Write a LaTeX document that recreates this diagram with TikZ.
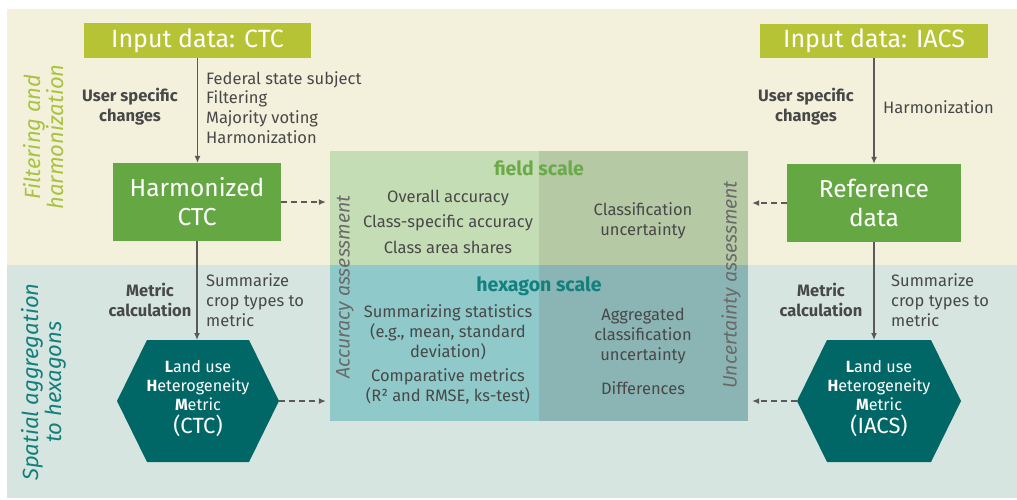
\documentclass[tikz,border=0pt]{standalone}
\usepackage{fontspec}
\setmainfont{Fira Sans}
\usetikzlibrary{arrows.meta}

\definecolor{bandtop}{HTML}{F3F1DC}
\definecolor{bandbot}{HTML}{D6E5DF}
\definecolor{inputgreen}{HTML}{B5C335}
\definecolor{midgreen}{HTML}{65A843}
\definecolor{hexteal}{HTML}{006766}
\definecolor{qtl}{HTML}{C5DDB5}
\definecolor{qtr}{HTML}{B5C9A5}
\definecolor{qbl}{HTML}{8FC9CA}
\definecolor{qbr}{HTML}{8AB5B4}
\definecolor{fieldgreen}{HTML}{6BAA48}
\definecolor{hexscale}{HTML}{13807E}
\definecolor{txtgray}{HTML}{484848}
\definecolor{vertgray}{HTML}{6A6A6A}
\definecolor{arrowgray}{HTML}{5A5A5A}
\definecolor{filtlabel}{HTML}{A9C23F}
\definecolor{spatlabel}{HTML}{137F7D}

\tikzset{
  databox/.style={rectangle, inner sep=0pt, text=white, font=\fontsize{25}{27}\selectfont},
  quad/.style={rectangle, inner sep=0pt, minimum width=209pt},
  sidetxt/.style={inner sep=0pt, text=txtgray, align=left, anchor=west, font=\fontsize{16.5}{19.7}\selectfont},
  boldtxt/.style={inner sep=0pt, text=txtgray, align=center, font=\fontsize{16.5}{20}\selectfont\bfseries},
  celltxt/.style={inner sep=0pt, text=txtgray, align=center, font=\fontsize{16.5}{20}\selectfont},
  bandlabel/.style={inner sep=0pt, rotate=90, align=center, font=\fontsize{22}{23}\selectfont\itshape},
  axislabel/.style={inner sep=0pt, rotate=90, text=vertgray, font=\fontsize{19.5}{20}\selectfont\itshape},
  scalelabel/.style={inner sep=0pt, font=\fontsize{19.5}{20}\selectfont\bfseries},
  hextxt/.style={inner sep=0pt, text=white, align=center, font=\fontsize{16.2}{19}\selectfont},
  flow/.style={draw=arrowgray, line width=1.2pt, -{Latex[length=7pt,width=6pt]}},
  dflow/.style={draw=arrowgray, line width=1.2pt, dash pattern=on 6pt off 4pt,
                -{Latex[length=7pt,width=6pt]}, shorten >=4pt}
}

\begin{document}
\begin{tikzpicture}[x=1pt,y=-1pt]
\useasboundingbox (0,0) rectangle (1017,499);
\fill[white] (0,0) rectangle (1017,499);

% background bands
\fill[bandtop] (7,9) rectangle (1017,265);
\fill[bandbot] (7,265) rectangle (1017,498);

% band labels
\node[bandlabel, text=filtlabel] (lblfilt) at (44,137) {Filtering and\\harmonization};
\node[bandlabel, text=spatlabel] (lblspat) at (44,382) {Spatial aggregation\\to hexagons};

% central assessment matrix
\node[quad, fill=qtl, minimum height=114pt] (qTL) at (434.5,208) {};
\node[quad, fill=qtr, minimum height=114pt] (qTR) at (643.5,208) {};
\node[quad, fill=qbl, minimum height=156pt] (qBL) at (434.5,343) {};
\node[quad, fill=qbr, minimum height=156pt] (qBR) at (643.5,343) {};

\node[scalelabel, text=fieldgreen] (fieldscale) at (539,168) {field scale};
\node[scalelabel, text=hexscale] (hexscale) at (539,286) {hexagon scale};

\node[axislabel] (accass) at (345,287) {Accuracy assessment};
\node[axislabel] (uncass) at (731,285) {Uncertainty assessment};

\node[celltxt, font=\fontsize{16.5}{25.5}\selectfont] (cellTL) at (448,221.5)
  {Overall accuracy\\Class-specific accuracy\\Class area shares};
\node[celltxt] (cellTR) at (643,221) {Classification\\uncertainty};
\node[celltxt] (cellBLa) at (448,332) {Summarizing statistics\\(e.g., mean, standard\\deviation)};
\node[celltxt] (cellBLb) at (448,386) {Comparative metrics\\(R² and RMSE, ks-test)};
\node[celltxt] (cellBRa) at (643,336) {Aggregated\\classification\\uncertainty};
\node[celltxt] (cellBRb) at (643,388) {Differences};

% input and harmonized data boxes
\node[databox, fill=inputgreen, minimum width=227pt, minimum height=35pt] (inCTC) at (197.5,40.5) {Input data: CTC};
\node[databox, fill=inputgreen, minimum width=228pt, minimum height=34pt] (inIACS) at (874,40.5) {Input data: IACS};
\node[databox, fill=midgreen, minimum width=168pt, minimum height=78pt, align=center,
      font=\fontsize{24.5}{29}\selectfont] (hCTC) at (197,202) {Harmonized\\CTC};
\node[databox, fill=midgreen, minimum width=174pt, minimum height=78pt, align=center,
      font=\fontsize{24.5}{29}\selectfont] (refD) at (874,203) {Reference\\data};

% hexagons for the heterogeneity metric
\coordinate (hexCw) at (117,401);
\coordinate (hexCe) at (279,401);
\coordinate (hexCn) at (198,340);
\fill[hexteal] (hexCw) -- (147,340) -- (249,340) -- (hexCe) -- (249,462) -- (147,462) -- cycle;
\node[hextxt] (hexCtxt) at (198,399)
  {\textbf{L}and use\\\textbf{H}eterogeneity\\\textbf{M}etric\\[4pt]{\fontsize{22}{24}\selectfont(CTC)}};

\coordinate (hexIw) at (797,401);
\coordinate (hexIe) at (961,401);
\coordinate (hexIn) at (879,340);
\fill[hexteal] (hexIw) -- (827,340) -- (931,340) -- (hexIe) -- (931,462) -- (827,462) -- cycle;
\node[hextxt] (hexItxt) at (879,399)
  {\textbf{L}and use\\\textbf{H}eterogeneity\\\textbf{M}etric\\[4pt]{\fontsize{22}{24}\selectfont(IACS)}};

% step annotations
\node[boldtxt] (usrL) at (130,107) {User specific\\changes};
\node[sidetxt] (stepsL) at (206,107.5) {Federal state subject\\Filtering\\Majority voting\\Harmonization};
\node[boldtxt] (metL) at (150,300) {Metric\\calculation};
\node[sidetxt] (sumL) at (206,300) {Summarize\\crop types to\\metric};

\node[boldtxt] (usrR) at (806,107) {User specific\\changes};
\node[sidetxt] (stepsR) at (883,107.5) {Harmonization};
\node[boldtxt] (metR) at (821,300) {Metric\\calculation};
\node[sidetxt] (sumR) at (891,300) {Summarize\\crop types to\\metric};

% processing flow
\draw[flow] (inCTC.south) -- (inCTC.south |- hCTC.north);
\draw[flow] (hCTC.south) -- (hCTC.south |- hexCn);
\draw[flow] (inIACS.south) -- (inIACS.south |- refD.north);
\draw[flow] (refD.south) -- (refD.south |- hexIn);

% inputs to the assessment
\draw[dflow] (hCTC.east) -- (hCTC.east -| qTL.west);
\draw[dflow] (refD.west) -- (refD.west -| qTR.east);
\draw[dflow] (hexCe) -- (hexCe -| qBL.west);
\draw[dflow] (hexIw) -- (hexIw -| qBR.east);
\end{tikzpicture}
\end{document}
